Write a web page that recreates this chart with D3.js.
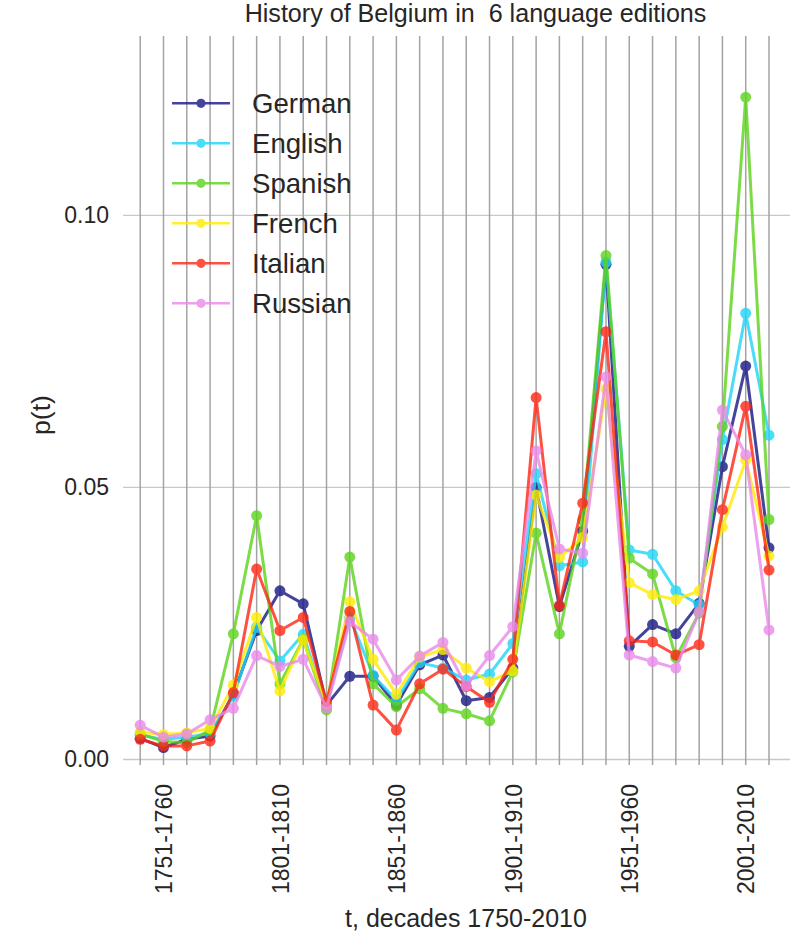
<!DOCTYPE html>
<html>
<head>
<meta charset="utf-8">
<script src="https://cdn.jsdelivr.net/npm/d3@7/dist/d3.min.js"></script>
<style>
  html, body { margin: 0; padding: 0; background: #fff; }
  svg { display: block; }
  text { font-family: "Liberation Sans", Arial, sans-serif; fill: #262626; }
</style>
</head>
<body>
<div id="chart"></div>
<script>
// ---- data ----
const decades = ["1741-1750","1751-1760","1761-1770","1771-1780","1781-1790","1791-1800",
  "1801-1810","1811-1820","1821-1830","1831-1840","1841-1850","1851-1860","1861-1870",
  "1871-1880","1881-1890","1891-1900","1901-1910","1911-1920","1921-1930","1931-1940",
  "1941-1950","1951-1960","1961-1970","1971-1980","1981-1990","1991-2000","2001-2010","2011-2020"];
const tickLabels = ["1751-1760","1801-1810","1851-1860","1901-1910","1951-1960","2001-2010"];
const yTicks = [0, 0.05, 0.10];
const languages = ["German","English","Spanish","French","Italian","Russian"];

const german  = [0.0039,0.0022,0.0037,0.0043,0.0120,0.0237,0.0310,0.0286,0.0100,0.0153,0.0153,0.0100,0.0174,0.0192,0.0108,0.0114,0.0168,0.0500,0.0281,0.0420,0.0910,0.0208,0.0248,0.0231,0.0287,0.0538,0.0723,0.0389];
const english = [0.0045,0.0037,0.0041,0.0048,0.0116,0.0243,0.0181,0.0230,0.0098,0.0261,0.0155,0.0109,0.0178,0.0168,0.0146,0.0157,0.0213,0.0525,0.0356,0.0363,0.0914,0.0385,0.0377,0.0310,0.0284,0.0588,0.0820,0.0596];
const spanish = [0.0047,0.0033,0.0031,0.0054,0.0231,0.0448,0.0139,0.0221,0.0091,0.0372,0.0139,0.0097,0.0130,0.0094,0.0084,0.0071,0.0161,0.0416,0.0231,0.0440,0.0926,0.0370,0.0341,0.0187,0.0269,0.0612,0.1217,0.0441];
const french  = [0.0050,0.0046,0.0049,0.0057,0.0137,0.0261,0.0126,0.0220,0.0102,0.0290,0.0184,0.0120,0.0188,0.0202,0.0168,0.0143,0.0163,0.0486,0.0371,0.0408,0.0681,0.0325,0.0303,0.0294,0.0310,0.0427,0.0550,0.0374];
const italian = [0.0037,0.0025,0.0025,0.0034,0.0123,0.0350,0.0237,0.0261,0.0106,0.0272,0.0100,0.0054,0.0139,0.0166,0.0134,0.0105,0.0184,0.0665,0.0283,0.0471,0.0786,0.0218,0.0216,0.0192,0.0211,0.0459,0.0649,0.0348];
const russian = [0.0063,0.0041,0.0047,0.0073,0.0094,0.0191,0.0171,0.0184,0.0095,0.0253,0.0221,0.0146,0.0190,0.0215,0.0135,0.0191,0.0244,0.0567,0.0387,0.0379,0.0703,0.0192,0.0180,0.0168,0.0271,0.0642,0.0560,0.0238];

const colors = ["#161682","#1ed5f8","#5cd41a","#ffeb00","#ff2614","#ea88ea"];
const seriesValues = [german, english, spanish, french, italian, russian];

// ---- layout ----
const W = 793, H = 931;
const svg = d3.select("#chart").append("svg").attr("width", W).attr("height", H);

const x = d3.scalePoint().domain(decades).range([140.2, 769]);
const y = d3.scaleLinear().domain([0, 0.10]).range([759.5, 215.3]);

// horizontal grid
svg.append("g").selectAll("line").data(yTicks).join("line")
  .attr("x1", 123).attr("x2", 790)
  .attr("y1", d => y(d)).attr("y2", d => y(d))
  .attr("stroke", "#c8c8c8").attr("stroke-width", 1.3);

// vertical grid (with tick extension)
svg.append("g").selectAll("line").data(decades).join("line")
  .attr("x1", d => x(d)).attr("x2", d => x(d))
  .attr("y1", 36).attr("y2", 765)
  .attr("stroke", "#a3a3a3").attr("stroke-width", 1.5);

// y axis labels
const yAxis = d3.axisLeft(y).tickValues(yTicks).tickFormat(d3.format(".2f")).tickSize(0).tickPadding(0);
const gy = svg.append("g").attr("transform", "translate(109,0)").call(yAxis);
gy.select(".domain").remove();
gy.selectAll("text").style("font-size", "23px").attr("fill", "#262626")
  .style("font-family", '"Liberation Sans", Arial, sans-serif');

// x axis labels
const xAxis = d3.axisBottom(x).tickValues(tickLabels).tickSize(0).tickPadding(0);
const gx = svg.append("g").attr("transform", "translate(0,784)").call(xAxis);
gx.select(".domain").remove();
gx.selectAll("text")
  .attr("transform", "rotate(-90)")
  .attr("text-anchor", "end")
  .attr("x", 0).attr("y", 0).attr("dy", "0.36em")
  .style("font-size", "23px").attr("fill", "#262626")
  .style("font-family", '"Liberation Sans", Arial, sans-serif');

// series
const line = d3.line().x((d, i) => x(decades[i])).y(d => y(d));
seriesValues.forEach((vals, k) => {
  const g = svg.append("g").attr("opacity", 0.8);
  g.append("path").datum(vals).attr("d", line)
    .attr("fill", "none").attr("stroke", colors[k]).attr("stroke-width", 3)
    .attr("stroke-linejoin", "round");
  g.selectAll("circle").data(vals).join("circle")
    .attr("cx", (d, i) => x(decades[i])).attr("cy", d => y(d)).attr("r", 5.5)
    .attr("fill", colors[k]);
});

// legend
const leg = svg.append("g");
languages.forEach((name, k) => {
  const yy = 103.3 + k * 40;
  const g = leg.append("g").attr("opacity", 0.8);
  g.append("line").attr("x1", 172).attr("x2", 230).attr("y1", yy).attr("y2", yy)
    .attr("stroke", colors[k]).attr("stroke-width", 2.6);
  g.append("circle").attr("cx", 201).attr("cy", yy).attr("r", 4.6).attr("fill", colors[k]);
  leg.append("text").attr("x", 252).attr("y", yy).attr("dy", "0.35em")
    .style("font-size", "27.6px").text(name);
});

// title
svg.append("text").attr("x", 475.5).attr("y", 13).attr("dy", "0.35em")
  .attr("text-anchor", "middle").style("font-size", "25.1px")
  .style("white-space", "pre").attr("xml:space", "preserve")
  .text("History of Belgium in  6 language editions");

// axis titles
svg.append("text").attr("x", 466).attr("y", 918).attr("dy", "0.35em")
  .attr("text-anchor", "middle").style("font-size", "25px")
  .text("t, decades 1750-2010");
svg.append("text").attr("transform", "translate(41,415) rotate(-90)")
  .attr("dy", "0.35em").attr("text-anchor", "middle").style("font-size", "26.6px")
  .text("p(t)");
</script>
</body>
</html>
